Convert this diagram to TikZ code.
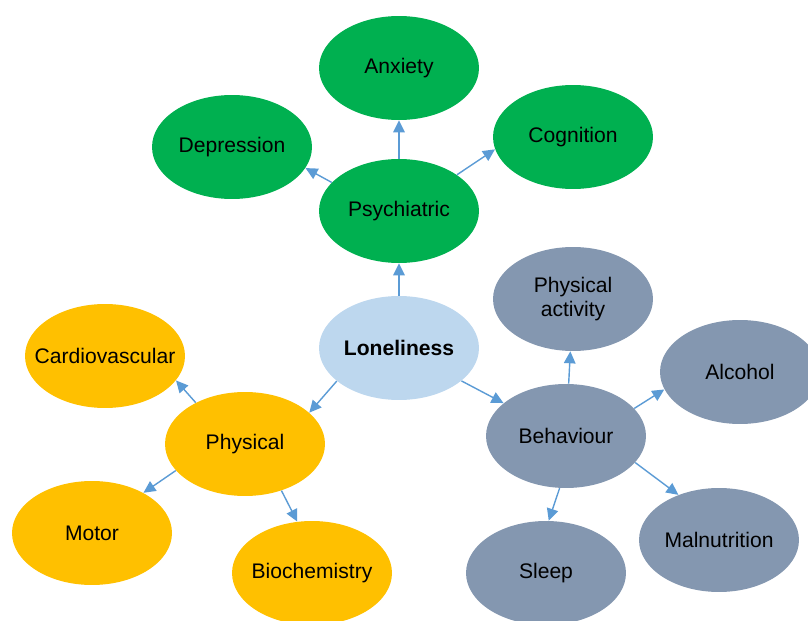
\documentclass[tikz,border=0pt]{standalone}
\usepackage{fontspec}
\setmainfont{Liberation Sans}
\usetikzlibrary{shapes.geometric,arrows.meta}
\definecolor{psygreen}{HTML}{00B050}
\definecolor{phyorange}{HTML}{FFC000}
\definecolor{behgrey}{HTML}{8497B0}
\definecolor{lonblue}{HTML}{BDD7EE}
\definecolor{linkblue}{HTML}{5B9BD5}
\begin{document}
\begin{tikzpicture}[x=0.02cm,y=-0.02cm,
    bubble/.style={ellipse,minimum width=3.2cm,minimum height=2.08cm,inner sep=0pt,align=center,font=\fontsize{12}{14}\selectfont},
    psy/.style={bubble,fill=psygreen},
    phy/.style={bubble,fill=phyorange},
    beh/.style={bubble,fill=behgrey},
    link/.style={draw=linkblue,line width=0.8pt,-{Triangle[length=2.4mm,width=2.3mm]}}]
        \useasboundingbox (0,0) rectangle (808,621);
        \clip (0,0) rectangle (808,621);
        \node[bubble,fill=lonblue,font=\fontsize{12}{14}\selectfont\bfseries] (lonely) at (399,348) {Loneliness};
        \node[psy] (psych) at (399,211) {Psychiatric};
        \node[psy] (anx) at (399,68) {Anxiety};
        \node[psy] (dep) at (232,147) {Depression};
        \node[psy] (cog) at (573,137) {Cognition};
        \node[phy] (phys) at (245,444) {Physical};
        \node[phy] (cardio) at (105,356) {\makebox[0pt]{Cardiovascular}};
        \node[phy] (motor) at (92,533) {Motor};
        \node[phy] (biochem) at (312,573) {\makebox[0pt]{Biochemistry}};
        \node[beh] (behav) at (566,436) {Behaviour};
        \node[beh] (activ) at (573,299) {Physical\\activity};
        \node[beh] (alc) at (740,372) {Alcohol};
        \node[beh] (sleep) at (546,573) {Sleep};
        \node[beh] (malnut) at (719,540) {Malnutrition};
        \draw[link] (lonely) -- (psych);
        \draw[link] (lonely.208) -- (phys.26);
        \draw[link] (lonely) -- (behav);
        \draw[link] (psych) -- (anx);
        \draw[link] (psych.157) -- (dep.344);
        \draw[link] (psych.32) -- (cog.189);
        \draw[link] (phys.140) -- (cardio.341);
        \draw[link] (phys.201) -- (motor.38);
        \draw[link] (phys.308) -- (biochem.106);
        \draw[link] (behav) -- (activ);
        \draw[link] (behav.22) -- (alc.193);
        \draw[link] (behav.263) -- (sleep.87);
        \draw[link] (behav.339) -- (malnut.132);
    \end{tikzpicture}
\end{document}
